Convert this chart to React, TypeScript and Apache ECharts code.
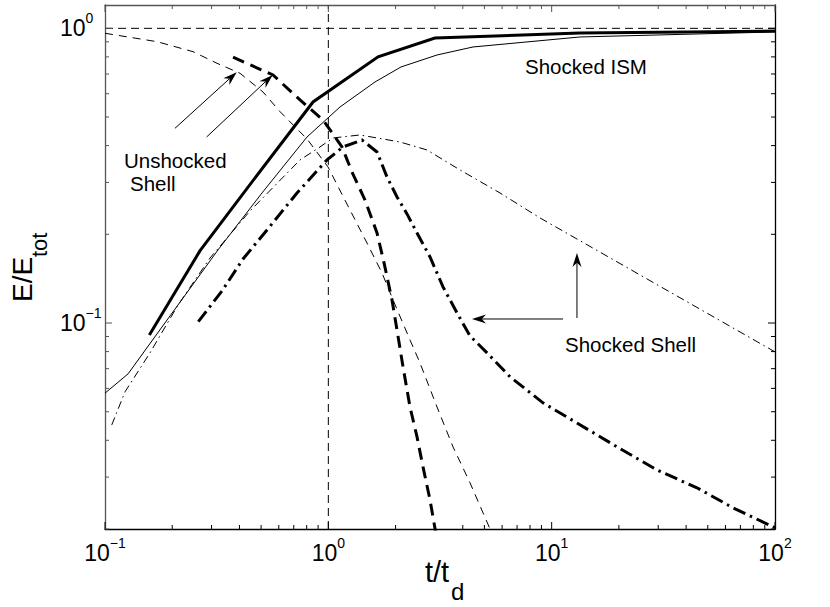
import React, { useEffect, useRef } from 'react';
import * as echarts from 'echarts';

const FONT = '"Liberation Sans", Arial, Helvetica, sans-serif';

// axis ranges
const T_MIN = 0.1;
const T_MAX = 100;
const E_MIN = 0.02;
const E_MAX = 1.2;

// reference lines
const REF_T = 1;
const REF_E = 1;

// tick values
const X_MAJOR_TICKS = [0.1, 1, 10, 100];
const X_MINOR_TICKS = [0.2, 0.3, 0.4, 0.5, 0.6, 0.7, 0.8, 0.9, 2, 3, 4, 5, 6, 7, 8, 9, 20, 30, 40, 50, 60, 70, 80, 90];
const Y_MAJOR_TICKS = [0.1, 1];
const Y_MINOR_TICKS = [0.02, 0.03, 0.04, 0.05, 0.06, 0.07, 0.08, 0.09, 0.2, 0.3, 0.4, 0.5, 0.6, 0.7, 0.8, 0.9];

// Shocked ISM (thick solid)
const ISM_THICK_T = [0.158, 0.266, 0.47, 0.854, 1.67, 3.0, 13.4, 100];
const ISM_THICK_E = [0.0911, 0.1756, 0.311, 0.5625, 0.8, 0.9275, 0.964, 0.979];

// Shocked ISM (thin solid)
const ISM_THIN_T = [0.1, 0.1268, 0.1955, 0.3206, 0.5047, 0.8027, 1.128, 1.618, 2.115, 3.066, 4.444, 13.39, 100];
const ISM_THIN_E = [0.0578, 0.0672, 0.1057, 0.177, 0.2763, 0.4279, 0.541, 0.6577, 0.7395, 0.812, 0.8644, 0.9347, 0.972];

// Unshocked shell (thin dashed)
const UNSH_THIN_T = [0.1, 0.171, 0.2478, 0.3174, 0.4023, 0.51, 0.6076, 0.8027, 0.9968, 1.2503, 1.49, 1.739, 1.948, 2.321, 2.573, 3.066, 3.616, 4.309, 5.297, 5.75];
const UNSH_THIN_E = [0.9621, 0.901, 0.8333, 0.761, 0.7039, 0.6081, 0.5215, 0.4213, 0.3385, 0.2419, 0.1869, 0.1479, 0.1198, 0.0876, 0.0732, 0.0519, 0.038, 0.0287, 0.02, 0.01725];

// Unshocked shell (thick dashed)
const UNSH_THICK_T = [0.3743, 0.5654, 0.7468, 0.9467, 1.151, 1.276, 1.459, 1.652, 1.776, 1.928, 2.03, 2.16, 2.321, 2.495, 2.654, 2.853, 3.066];
const UNSH_THICK_E = [0.7978, 0.6945, 0.5714, 0.4887, 0.3958, 0.3256, 0.2616, 0.2021, 0.1599, 0.1198, 0.0947, 0.071, 0.0519, 0.0411, 0.0325, 0.0251, 0.01837];

// Shocked shell (thin dash-dot)
const SH_THIN_T = [0.1072, 0.1229, 0.159, 0.2123, 0.2953, 0.4461, 0.7468, 0.9178, 1.049, 1.386, 2.093, 2.765, 3.887, 5.871, 8.867, 100];
const SH_THIN_E = [0.0451, 0.0584, 0.0792, 0.1151, 0.1662, 0.2401, 0.3576, 0.3958, 0.4246, 0.4346, 0.4115, 0.3866, 0.3307, 0.2763, 0.2273, 0.0798];

// Shocked shell (thick dash-dot)
const SH_THICK_T = [0.2617, 0.3342, 0.415, 0.5314, 0.724, 0.9865, 1.163, 1.415, 1.652, 1.831, 2.03, 2.25, 2.495, 2.853, 3.262, 3.77, 4.309, 5.135, 6.51, 9.143, 12.98, 19.61, 29.63, 44.74, 64.85, 100];
const SH_THICK_E = [0.1011, 0.1285, 0.165, 0.2069, 0.2763, 0.3576, 0.3958, 0.418, 0.3806, 0.3131, 0.2678, 0.2346, 0.2021, 0.1676, 0.1326, 0.1082, 0.0904, 0.0792, 0.0657, 0.0536, 0.0458, 0.038, 0.0317, 0.0276, 0.0236, 0.0202];

// annotation arrows (data coordinates)
const ARROW_FROM_T = [0.2058, 0.2853, 11.24, 12.98];
const ARROW_FROM_E = [0.458, 0.428, 0.1032, 0.104];
const ARROW_TO_T = [0.3889, 0.5635, 4.398, 12.98];
const ARROW_TO_E = [0.71, 0.695, 0.1032, 0.1728];

const zip = (xs: number[], ys: number[]) => xs.map((x, i) => [x, ys[i]]);

function expLabel(v: number): string {
  const l = Math.log10(v);
  const e = Math.round(l);
  if (Math.abs(l - e) > 1e-6) return '';
  const s = e < 0 ? '\u2212' + Math.abs(e) : String(e);
  return '{b|10}{s|' + s + '}';
}

const labelRich = {
  b: { fontSize: 23, fontFamily: FONT, color: '#000' },
  s: { fontSize: 14, fontFamily: FONT, color: '#000', padding: [0, 0, 20, 0] },
};

function lineSeries(name: string, xs: number[], ys: number[], width: number, type: any) {
  return {
    name,
    type: 'line',
    data: zip(xs, ys),
    symbol: 'none',
    showSymbol: false,
    silent: true,
    clip: true,
    lineStyle: { color: '#000', width, type, cap: 'butt', join: 'miter' },
    z: 3,
  };
}

export default function App() {
  const ref = useRef<HTMLDivElement>(null);
  useEffect(() => {
    if (!ref.current) return;
    const chart = echarts.init(ref.current, null, { renderer: 'svg' });

    const tickData: number[][] = [];
    X_MAJOR_TICKS.forEach((v) => tickData.push([v, E_MIN, 1, 0]));
    X_MINOR_TICKS.forEach((v) => tickData.push([v, E_MIN, 0, 0]));
    Y_MAJOR_TICKS.forEach((v) => tickData.push([T_MIN, v, 1, 1]));
    Y_MINOR_TICKS.forEach((v) => tickData.push([T_MIN, v, 0, 1]));

    const arrowData = ARROW_FROM_T.map((t, i) => [t, ARROW_FROM_E[i], ARROW_TO_T[i], ARROW_TO_E[i]]);

    const option: any = {
      animation: false,
      backgroundColor: '#fff',
      grid: { left: 105, top: 5, width: 670, height: 524, containLabel: false, outerBoundsMode: 'none' },
      xAxis: [
        {
          type: 'log', logBase: 10, min: T_MIN, max: T_MAX, position: 'bottom',
          axisLine: { show: true, onZero: false, lineStyle: { color: '#000', width: 1.3 } },
          axisTick: { show: false }, minorTick: { show: false },
          splitLine: { show: false }, minorSplitLine: { show: false },
          axisLabel: { show: true, margin: 7, formatter: expLabel, rich: labelRich },
        },
        {
          type: 'log', logBase: 10, min: T_MIN, max: T_MAX, position: 'top',
          axisLine: { show: true, onZero: false, lineStyle: { color: '#555', width: 1.3 } },
          axisTick: { show: false }, axisLabel: { show: false }, splitLine: { show: false },
        },
      ],
      yAxis: [
        {
          type: 'log', logBase: 10, min: E_MIN, max: E_MAX, position: 'left',
          axisLine: { show: true, onZero: false, lineStyle: { color: '#555', width: 1.3 } },
          axisTick: { show: false }, minorTick: { show: false },
          splitLine: { show: false }, minorSplitLine: { show: false },
          axisLabel: { show: true, margin: 45, align: 'left', formatter: expLabel, rich: labelRich },
        },
        {
          type: 'log', logBase: 10, min: E_MIN, max: E_MAX, position: 'right',
          axisLine: { show: true, onZero: false, lineStyle: { color: '#000', width: 1.3 } },
          axisTick: { show: false }, axisLabel: { show: false }, splitLine: { show: false },
        },
      ],
      graphic: [
        { type: 'text', x: 124, y: 160.2, style: { text: 'Unshocked', fontSize: 20.5, fontFamily: FONT, fill: '#000', align: 'left', verticalAlign: 'middle' } },
        { type: 'text', x: 130, y: 183.9, style: { text: 'Shell', fontSize: 20.5, fontFamily: FONT, fill: '#000', align: 'left', verticalAlign: 'middle' } },
        { type: 'text', x: 525, y: 66.2, style: { text: 'Shocked ISM', fontSize: 20.5, fontFamily: FONT, fill: '#000', align: 'left', verticalAlign: 'middle' } },
        { type: 'text', x: 565, y: 344.9, style: { text: 'Shocked Shell', fontSize: 20.5, fontFamily: FONT, fill: '#000', align: 'left', verticalAlign: 'middle' } },
        { type: 'text', x: 425, y: 572, style: { text: 't/t', fontSize: 29, fontFamily: FONT, fill: '#000', align: 'left', verticalAlign: 'middle' } },
        { type: 'text', x: 451, y: 591.7, style: { text: 'd', fontSize: 24, fontFamily: FONT, fill: '#000', align: 'left', verticalAlign: 'middle' } },
        { type: 'text', x: 22.3, y: 302, rotation: Math.PI / 2, style: { text: 'E/E', fontSize: 28, fontFamily: FONT, fill: '#000', align: 'left', verticalAlign: 'middle' } },
        { type: 'text', x: 39.4, y: 257, rotation: Math.PI / 2, style: { text: 'tot', fontSize: 22, fontFamily: FONT, fill: '#000', align: 'left', verticalAlign: 'middle' } },
      ],
      series: [
        lineSeries('refE', [T_MIN, T_MAX], [REF_E, REF_E], 1, [8, 5]),
        lineSeries('refT', [REF_T, REF_T], [E_MIN, E_MAX], 1, [8, 5]),
        lineSeries('Shocked ISM thick', ISM_THICK_T, ISM_THICK_E, 3, 'solid'),
        lineSeries('Shocked ISM thin', ISM_THIN_T, ISM_THIN_E, 1, 'solid'),
        lineSeries('Unshocked Shell thin', UNSH_THIN_T, UNSH_THIN_E, 1, [8, 6]),
        lineSeries('Unshocked Shell thick', UNSH_THICK_T, UNSH_THICK_E, 3, [12, 7]),
        lineSeries('Shocked Shell thin', SH_THIN_T, SH_THIN_E, 1, [8, 4, 1.5, 4]),
        lineSeries('Shocked Shell thick', SH_THICK_T, SH_THICK_E, 3, [13, 5, 2.5, 5]),
        {
          name: 'ticks',
          type: 'custom',
          silent: true,
          data: tickData,
          encode: { x: 0, y: 1 },
          z: 5,
          renderItem: (params: any, api: any) => {
            const v0 = api.value(0);
            const v1 = api.value(1);
            const major = api.value(2) === 1;
            const orient = api.value(3);
            const len = major ? 7 : 4;
            if (orient === 0) {
              const b = api.coord([v0, E_MIN]);
              const t = api.coord([v0, E_MAX]);
              return {
                type: 'group',
                children: [
                  { type: 'line', shape: { x1: b[0], y1: b[1], x2: b[0], y2: b[1] - len }, style: { stroke: '#000', lineWidth: 1 } },
                  { type: 'line', shape: { x1: t[0], y1: t[1], x2: t[0], y2: t[1] + len }, style: { stroke: '#555', lineWidth: 1 } },
                ],
              };
            }
            const l = api.coord([T_MIN, v1]);
            const r = api.coord([T_MAX, v1]);
            return {
              type: 'group',
              children: [
                { type: 'line', shape: { x1: l[0], y1: l[1], x2: l[0] + len, y2: l[1] }, style: { stroke: '#555', lineWidth: 1 } },
                { type: 'line', shape: { x1: r[0], y1: r[1], x2: r[0] - len, y2: r[1] }, style: { stroke: '#000', lineWidth: 1 } },
              ],
            };
          },
        },
        {
          name: 'arrows',
          type: 'custom',
          silent: true,
          data: arrowData,
          encode: { x: [0, 2], y: [1, 3] },
          z: 6,
          renderItem: (params: any, api: any) => {
            const p1 = api.coord([api.value(0), api.value(1)]);
            const p2 = api.coord([api.value(2), api.value(3)]);
            const dx = p2[0] - p1[0];
            const dy = p2[1] - p1[1];
            const len = Math.hypot(dx, dy) || 1;
            const ux = dx / len;
            const uy = dy / len;
            const nx = -uy;
            const ny = ux;
            const L = 14;
            const W = 4.5;
            const back = [p2[0] - ux * L, p2[1] - uy * L];
            const notch = [p2[0] - ux * L * 0.7, p2[1] - uy * L * 0.7];
            return {
              type: 'group',
              children: [
                { type: 'line', shape: { x1: p1[0], y1: p1[1], x2: notch[0], y2: notch[1] }, style: { stroke: '#000', lineWidth: 1 } },
                {
                  type: 'polygon',
                  shape: { points: [[p2[0], p2[1]], [back[0] + nx * W, back[1] + ny * W], notch, [back[0] - nx * W, back[1] - ny * W]] },
                  style: { fill: '#000', stroke: 'none' },
                },
              ],
            };
          },
        },
      ],
    };

    chart.setOption(option);
    return () => chart.dispose();
  }, []);

  return <div ref={ref} style={{ position: 'absolute', left: 0, top: 0, width: 830, height: 607, background: '#fff' }} />;
}
